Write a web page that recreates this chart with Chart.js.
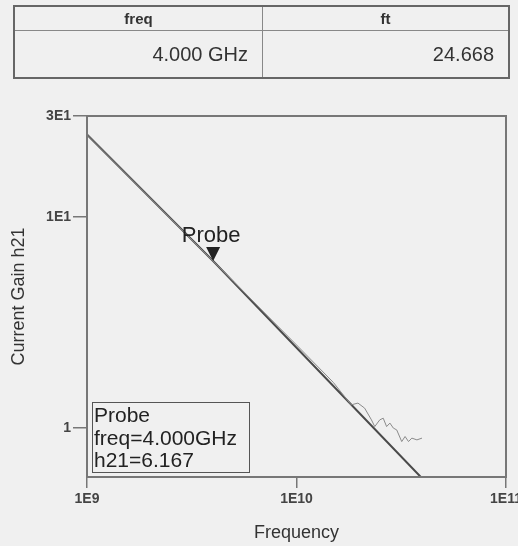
<!DOCTYPE html>
<html>
<head>
<meta charset="utf-8">
<script src="https://cdn.jsdelivr.net/npm/chart.js@4.4.1/dist/chart.umd.min.js"></script>
<style>
  body { margin: 0; background: #f0f0f0; overflow: hidden; }
  #wrap { position: relative; width: 518px; height: 546px; }
  #plot { position: absolute; left: 0; top: 0; }
  table {
    position: absolute; left: 13px; top: 5px; width: 497px; height: 74px;
    border-collapse: collapse; border: 2px solid #666; table-layout: fixed;
    font-family: "Liberation Sans", Arial, sans-serif; color: #333;
  }
  th { height: 23px; font-size: 15px; font-weight: bold; border: 1px solid #888; padding: 0; }
  td { font-size: 20px; text-align: right; border: 1px solid #888; padding: 0 14px 0 0; }
  th.c1, td.c1 { width: 247px; }
</style>
</head>
<body>
<div id="wrap">
  <canvas id="plot" width="518" height="546"></canvas>
  <table>
    <tr><th class="c1">freq</th><th>ft</th></tr>
    <tr><td class="c1">4.000 GHz</td><td>24.668</td></tr>
  </table>
</div>
<script>
// Ejes
const xTicks = [1e9, 1e10, 1e11];
const xTickLabels = ["1E9", "1E10", "1E11"];
const yTicks = [1, 10, 30];
const yTickLabels = ["1", "1E1", "3E1"];

// Recta ideal h21
const idealFreq = [1e9, 4e9, 3.92e10];
const idealGain = [24.5, 6.167, 0.585];

// Curva medida (sigue la recta y se vuelve ruidosa a alta frecuencia)
const measFreq = [1e9, 5e9, 1e10, 1.5e10, 1.824e10, 1.965e10, 2.114e10, 2.279e10, 2.363e10, 2.498e10,
  2.594e10, 2.692e10, 2.792e10, 2.900e10, 3.008e10, 3.179e10, 3.298e10, 3.425e10, 3.553e10, 3.757e10, 3.972e10];
const measGain = [24.5, 4.93, 2.47, 1.64, 1.285, 1.31, 1.24, 1.091, 1.014, 1.091,
  1.111, 1.014, 1.053, 0.997, 0.978, 0.861, 0.910, 0.861, 0.894, 0.877, 0.894];

// Marcador Probe
const probeFreq = [4e9];
const probeGain = [6.167];

const toPts = (xs, ys) => xs.map((x, i) => ({ x: x, y: ys[i] }));

// Marco, marcador y caja de texto
const probePlugin = {
  id: "probe",
  afterDatasetsDraw(chart) {
    const { ctx, chartArea: a, scales } = chart;
    ctx.save();
    ctx.strokeStyle = "#777";
    ctx.lineWidth = 2;
    ctx.strokeRect(a.left, a.top, a.right - a.left, a.bottom - a.top);

    const px = scales.x.getPixelForValue(probeFreq[0]);
    const py = scales.y.getPixelForValue(probeGain[0]);
    ctx.fillStyle = "#222";
    ctx.beginPath();
    ctx.moveTo(px - 7, py - 14);
    ctx.lineTo(px + 7, py - 14);
    ctx.lineTo(px, py);
    ctx.closePath();
    ctx.fill();
    ctx.font = '22px "Liberation Sans", Arial, sans-serif';
    ctx.textAlign = "center";
    ctx.textBaseline = "alphabetic";
    ctx.fillText("Probe", px - 2, py - 19);

    // caja de lectura
    const bx = a.left + 5, by = a.bottom - 75;
    ctx.fillStyle = "#f0f0f0";
    ctx.fillRect(bx, by, 157, 70);
    ctx.strokeStyle = "#555";
    ctx.lineWidth = 1;
    ctx.strokeRect(bx + 0.5, by + 0.5, 157, 70);
    ctx.fillStyle = "#222";
    ctx.textAlign = "left";
    ctx.font = '21px "Liberation Sans", Arial, sans-serif';
    const lines = ["Probe", "freq=" + (probeFreq[0] / 1e9).toFixed(3) + "GHz", "h21=" + probeGain[0].toFixed(3)];
    lines.forEach((t, i) => ctx.fillText(t, bx + 2, by + 20 + i * 22.5));
    ctx.restore();
  }
};

Chart.defaults.font.family = '"Liberation Sans", Arial, sans-serif';
Chart.defaults.color = "#333";

new Chart(document.getElementById("plot"), {
  type: "scatter",
  data: {
    datasets: [
      {
        data: toPts(measFreq, measGain),
        showLine: true,
        borderColor: "#8a8a8a",
        borderWidth: 1,
        pointRadius: 0
      },
      {
        data: toPts(idealFreq, idealGain),
        showLine: true,
        borderColor: "#4a4a4a",
        borderWidth: 2,
        pointRadius: 0
      }
    ]
  },
  options: {
    responsive: false,
    animation: false,
    layout: { padding: { top: 116, right: 12, bottom: 0, left: 0 } },
    plugins: { legend: { display: false }, tooltip: { enabled: false } },
    scales: {
      x: {
        type: "logarithmic",
        min: 1e9,
        max: 1e11,
        afterBuildTicks: (s) => { s.ticks = xTicks.map(v => ({ value: v })); },
        afterFit: (s) => { s.height = 69; s.paddingLeft = 0; s.paddingRight = 0; },
        ticks: {
          autoSkip: false,
          maxRotation: 0,
          padding: 3,
          font: { size: 14, weight: "bold" },
          color: "#444",
          callback: (v) => xTickLabels[xTicks.indexOf(v)]
        },
        grid: { drawOnChartArea: false, drawTicks: true, tickLength: 11, color: "#777", lineWidth: 1.5 },
        border: { display: false },
        title: { display: true, text: "Frequency", font: { size: 18 }, color: "#333", padding: { top: 0, bottom: 2 } }
      },
      y: {
        type: "logarithmic",
        min: 0.585,
        max: 30,
        afterBuildTicks: (s) => { s.ticks = yTicks.map(v => ({ value: v })); },
        afterFit: (s) => { s.width = 87; s.paddingTop = 0; s.paddingBottom = 0; },
        ticks: {
          autoSkip: false,
          padding: 2,
          font: { size: 14, weight: "bold" },
          color: "#444",
          callback: (v) => yTickLabels[yTicks.indexOf(v)]
        },
        grid: { drawOnChartArea: false, drawTicks: true, tickLength: 14, color: "#777", lineWidth: 1.5 },
        border: { display: false },
        title: { display: true, text: "Current Gain h21", font: { size: 18 }, color: "#333", padding: { top: 8, bottom: 0 } }
      }
    }
  },
  plugins: [probePlugin]
});
</script>
</body>
</html>
